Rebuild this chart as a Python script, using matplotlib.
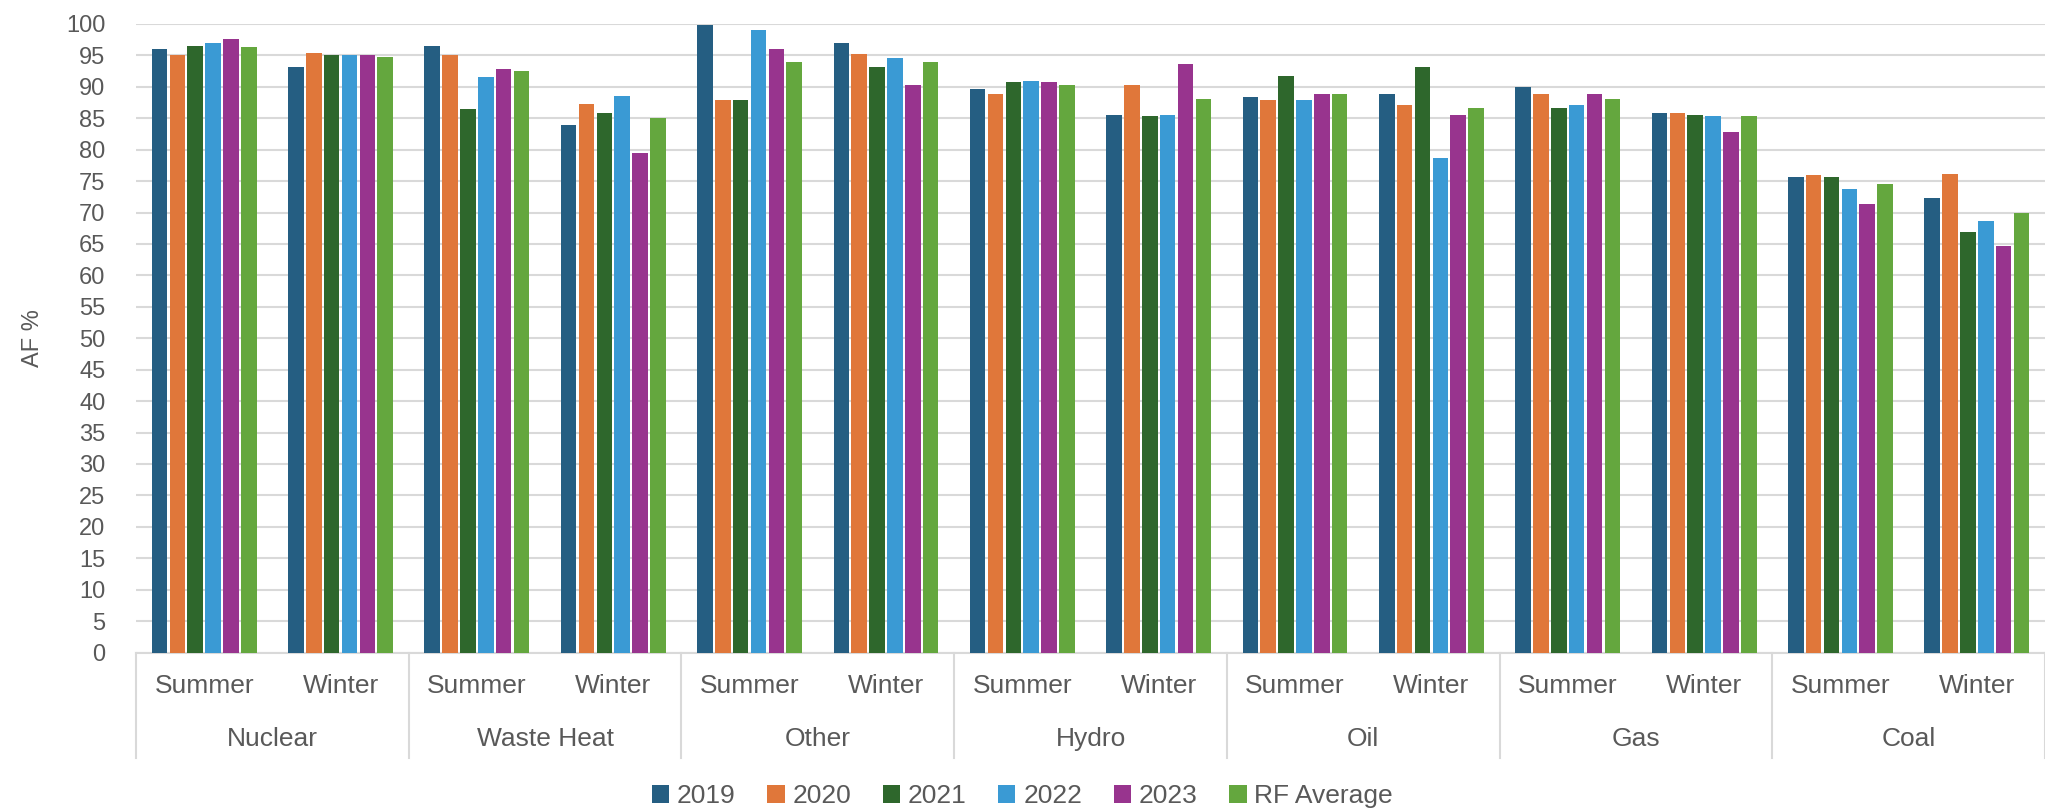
import matplotlib.pyplot as plt
from matplotlib.transforms import blended_transform_factory
import numpy as np

# Availability factor by technology and season
technologies = ['Nuclear', 'Waste Heat', 'Other', 'Hydro', 'Oil', 'Gas', 'Coal']
seasons = ['Summer', 'Winter']
series_names = ['2019', '2020', '2021', '2022', '2023', 'RF Average']

af_2019 = [96.1, 93.2, 96.5, 83.9, 99.8, 96.9, 89.7, 85.6, 88.4, 88.8, 89.9, 85.9, 75.6, 72.3]
af_2020 = [95.1, 95.4, 95.1, 87.2, 87.9, 95.3, 88.9, 90.3, 87.9, 87.1, 88.9, 85.9, 75.9, 76.2]
af_2021 = [96.5, 95.1, 86.5, 85.9, 87.9, 93.2, 90.7, 85.3, 91.7, 93.2, 86.7, 85.6, 75.6, 66.9]
af_2022 = [96.9, 95.1, 91.5, 88.5, 99.0, 94.6, 91.0, 85.6, 87.9, 78.7, 87.1, 85.3, 73.7, 68.7]
af_2023 = [97.6, 95.1, 92.8, 79.5, 96.1, 90.3, 90.7, 93.6, 88.9, 85.6, 88.9, 82.8, 71.3, 64.7]
af_rf_avg = [96.4, 94.7, 92.5, 85.0, 94.0, 94.0, 90.3, 88.1, 88.9, 86.7, 88.1, 85.3, 74.5, 69.9]

series = [af_2019, af_2020, af_2021, af_2022, af_2023, af_rf_avg]
colors = ['#255E82', '#E0773A', '#2E672C', '#3A9AD4', '#98348E', '#64A73E']

plt.rcParams['font.family'] = ['Liberation Sans', 'DejaVu Sans']
text_color = '#595959'
grid_color = '#D9D9D9'

fig = plt.figure(figsize=(20.45, 8.1), dpi=100)
ax = fig.add_axes([136 / 2045, (810 - 652.5) / 810, (2045 - 136) / 2045, 628.5 / 810])

n_cat = len(technologies) * len(seasons)
x = np.arange(n_cat) + 0.5
pitch = 0.131
width = 0.114
for i, (vals, col, name) in enumerate(zip(series, colors, series_names)):
    ax.bar(x + (i - 2.5) * pitch, vals, width=width, color=col, label=name, zorder=3)

ax.set_xlim(0, n_cat)
ax.set_ylim(0, 100)
ax.set_yticks(np.arange(0, 101, 5))
ax.yaxis.grid(True, color=grid_color, linewidth=1.5, zorder=0)
ax.set_xticks([])
ax.tick_params(axis='y', length=0, pad=22, labelsize=17, labelcolor=text_color)
for side in ['top', 'right', 'left']:
    ax.spines[side].set_visible(False)
ax.spines['bottom'].set_color(grid_color)
ax.spines['bottom'].set_linewidth(1.5)

# two-level category axis
trans = blended_transform_factory(ax.transData, ax.transAxes)
for k in range(n_cat):
    ax.text(x[k], -0.0533, seasons[k % 2], transform=trans, ha='center', va='center',
            fontsize=19, color=text_color)
for g, tech in enumerate(technologies):
    ax.text(2 * g + 1, -0.1376, tech, transform=trans, ha='center', va='center',
            fontsize=19, color=text_color)
for b in range(0, n_cat + 1, 2):
    ax.plot([b, b], [0, -0.1686], transform=trans, color=grid_color, linewidth=1.5,
            clip_on=False)

fig.text(33 / 2045, (810 - 338) / 810, 'AF %', rotation=90, ha='center', va='center',
         fontsize=17, color=text_color)

leg = fig.legend(loc='center', bbox_to_anchor=(0.5, 14 / 810), ncol=6, frameon=False,
                 fontsize=19, handlelength=0.65, handleheight=0.65, handletextpad=0.3,
                 columnspacing=1.2)
for t in leg.get_texts():
    t.set_color(text_color)

fig.savefig('out.png', dpi=100)
plt.close(fig)
